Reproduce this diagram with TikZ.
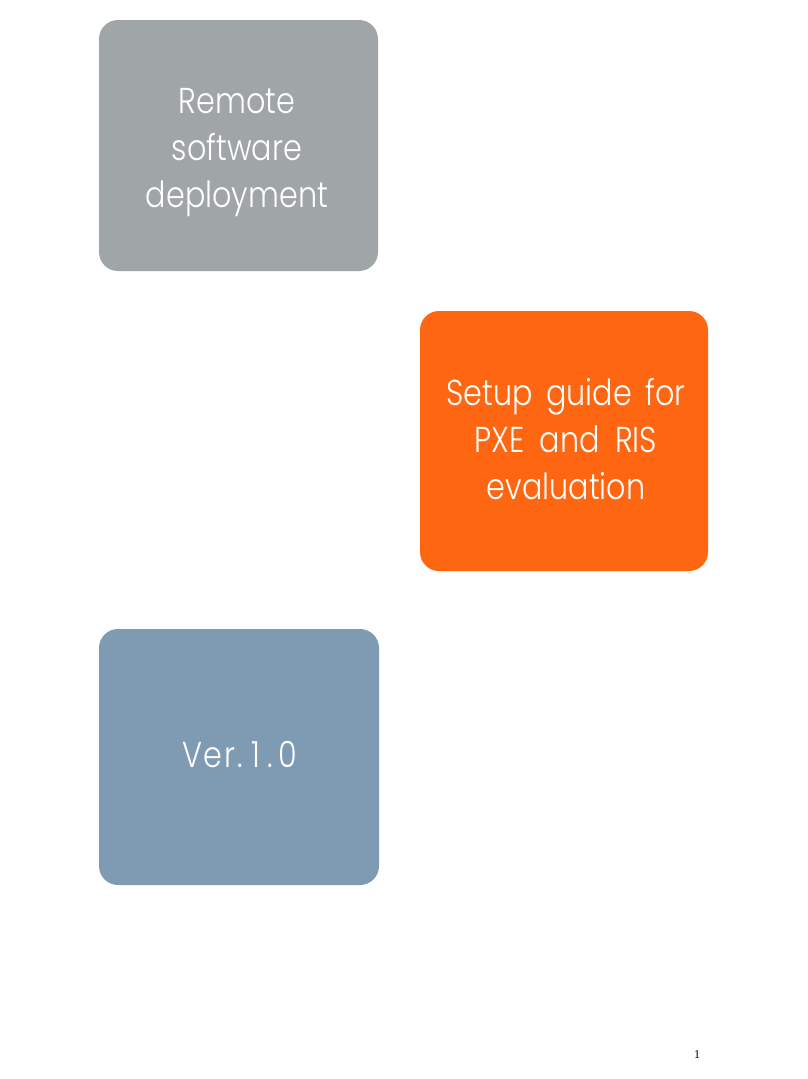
\documentclass[tikz,border=0pt]{standalone}
\usepackage{fontspec}
\setmainfont{Poppins Light}[FakeStretch=0.84]
\newfontfamily\pagefont{Liberation Serif}
\definecolor{cgray}{HTML}{A0A5A7}
\definecolor{corange}{HTML}{FF6611}
\definecolor{cblue}{HTML}{7F9AB3}
\tikzset{
 card/.style={rounded corners=19pt,draw=none},
 cardtext/.style={text=white,align=center,font=\fontsize{36}{47}\selectfont},
}
\begin{document}
\begin{tikzpicture}[x=1pt,y=-1pt]
\useasboundingbox (0,0) rectangle (808,1079);
\fill[white] (0,0) rectangle (808,1079);
\fill[card,cgray] (99,20) rectangle (378,271);
\fill[card,corange] (420,311) rectangle (708,571);
\fill[card,cblue] (99,629) rectangle (379,885);
\node[cardtext] (a) at (237,153) {Remote\\software\\deployment};
\node[cardtext] (b) at (566,439.5) {Setup\hspace{5pt} guide\hspace{5pt} for\\PXE\hspace{7pt} and\hspace{7pt} RIS\\evaluation};
\node[cardtext] (c) at (240,755) {V\kern1pt e\kern2pt r\kern2pt .\kern8pt 1\kern8pt .\kern5pt 0};
\node[font=\pagefont\fontsize{12}{14}\selectfont] (p) at (697,1055) {1};
\end{tikzpicture}
\end{document}
